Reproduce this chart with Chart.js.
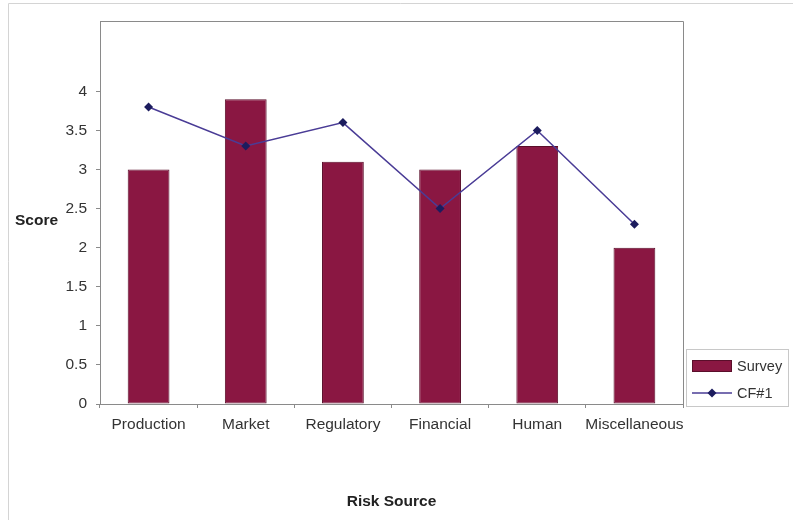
<!DOCTYPE html>
<html>
<head>
<meta charset="utf-8">
<script src="https://cdn.jsdelivr.net/npm/chart.js@4"></script>
<style>
  html, body { margin: 0; padding: 0; background: #fff; }
  #wrap { position: relative; width: 793px; height: 520px; }
  canvas { display: block; }
  #legend {
    position: absolute; left: 686px; top: 349px; width: 103px; height: 58px;
    background: #fff; border: 1px solid #c8c8c8; box-sizing: border-box;
    font-family: "Liberation Sans", Arial, sans-serif; font-size: 14.5px; color: #333;
  }
  .item { position: absolute; left: 5px; height: 16px; display: flex; align-items: center; }
  .item canvas { margin-right: 5px; }
</style>
</head>
<body>
<div id="wrap">
  <canvas id="c" width="793" height="520"></canvas>
  <div id="legend"></div>
</div>
<script>
// Risk sources and their scores
const categories = ['Production', 'Market', 'Regulatory', 'Financial', 'Human', 'Miscellaneous'];
const surveyScores = [3.0, 3.9, 3.1, 3.0, 3.3, 2.0];
const cf1Scores = [3.8, 3.3, 3.6, 2.5, 3.5, 2.3];
const yTickValues = [0, 0.5, 1, 1.5, 2, 2.5, 3, 3.5, 4];

const BAR_COLOR = '#8a1742';
const BAR_EDGE = '#5a0e2a';
const LINE_COLOR = '#4a3c96';
const MARKER_COLOR = '#1c1c5e';
const TEXT_COLOR = '#333333';
const FONT = '"Liberation Sans", Arial, sans-serif';
const FONT_SIZE = 15.5;

// Legend swatches: a filled bar block and a line with a diamond marker
function barSwatch() {
  const c = document.createElement('canvas');
  c.width = 40; c.height = 12;
  const g = c.getContext('2d');
  g.fillStyle = BAR_COLOR;
  g.fillRect(0, 0, 40, 12);
  g.strokeStyle = BAR_EDGE;
  g.lineWidth = 1;
  g.strokeRect(0.5, 0.5, 39, 11);
  return c;
}
function lineSwatch() {
  const c = document.createElement('canvas');
  c.width = 40; c.height = 12;
  const g = c.getContext('2d');
  g.strokeStyle = LINE_COLOR;
  g.lineWidth = 1.5;
  g.beginPath(); g.moveTo(0, 6); g.lineTo(40, 6); g.stroke();
  g.fillStyle = MARKER_COLOR;
  g.beginPath();
  g.moveTo(20, 1.5); g.lineTo(24.5, 6); g.lineTo(20, 10.5); g.lineTo(15.5, 6); g.closePath();
  g.fill();
  return c;
}
function buildLegend() {
  const host = document.getElementById('legend');
  [['Survey', barSwatch(), 8], ['CF#1', lineSwatch(), 35]].forEach(([text, sw, top]) => {
    const item = document.createElement('div');
    item.className = 'item';
    item.style.top = top + 'px';
    item.appendChild(sw);
    const span = document.createElement('span');
    span.textContent = text;
    item.appendChild(span);
    host.appendChild(item);
  });
}
buildLegend();

// Frame around the plot area, page border and the horizontal "Score" label
const decorations = {
  id: 'decorations',
  beforeDraw(chart) {
    const ctx = chart.ctx;
    ctx.save();
    ctx.strokeStyle = '#d4d4d4';
    ctx.lineWidth = 1;
    ctx.beginPath();
    ctx.moveTo(8.5, 520); ctx.lineTo(8.5, 3.5); ctx.lineTo(793, 3.5);
    ctx.stroke();
    ctx.restore();
  },
  afterDraw(chart) {
    const ctx = chart.ctx;
    const a = chart.chartArea;
    ctx.save();
    ctx.strokeStyle = '#8a8a8a';
    ctx.lineWidth = 1;
    ctx.beginPath();
    ctx.moveTo(Math.round(a.left) + 0.5, Math.round(a.top) + 0.5);
    ctx.lineTo(Math.round(a.right) + 0.5, Math.round(a.top) + 0.5);
    ctx.lineTo(Math.round(a.right) + 0.5, Math.round(a.bottom) + 0.5);
    ctx.stroke();

    ctx.fillStyle = '#222';
    ctx.font = 'bold ' + FONT_SIZE + 'px ' + FONT;
    ctx.textAlign = 'left';
    ctx.textBaseline = 'middle';
    ctx.fillText('Score', 15, 221);
    ctx.restore();
  }
};

new Chart(document.getElementById('c'), {
  type: 'bar',
  data: {
    labels: categories,
    datasets: [
      {
        type: 'line',
        label: 'CF#1',
        data: cf1Scores,
        borderColor: LINE_COLOR,
        borderWidth: 1.5,
        pointStyle: 'rectRot',
        pointRadius: 4.5,
        pointBackgroundColor: MARKER_COLOR,
        pointBorderColor: MARKER_COLOR,
        pointBorderWidth: 0,
        tension: 0,
        fill: false,
        order: 0
      },
      {
        type: 'bar',
        label: 'Survey',
        data: surveyScores,
        backgroundColor: BAR_COLOR,
        borderColor: BAR_EDGE,
        borderWidth: 1,
        borderSkipped: false,
        categoryPercentage: 1,
        barPercentage: 0.43,
        order: 1
      }
    ]
  },
  options: {
    responsive: false,
    animation: false,
    devicePixelRatio: 1,
    layout: { padding: { top: 21, right: 110, bottom: 0, left: 0 } },
    plugins: {
      tooltip: { enabled: false },
      legend: { display: false }
    },
    scales: {
      x: {
        offset: true,
        grid: {
          offset: true,
          drawOnChartArea: false,
          drawTicks: true,
          tickLength: 4,
          color: '#8a8a8a'
        },
        border: { display: true, color: '#8a8a8a', width: 1 },
        ticks: {
          color: TEXT_COLOR,
          font: { family: FONT, size: FONT_SIZE },
          padding: 7,
          maxRotation: 0,
          autoSkip: false
        },
        title: {
          display: true,
          text: 'Risk Source',
          color: '#222',
          font: { family: FONT, size: FONT_SIZE, weight: 'bold' },
          padding: { top: 4, bottom: 9 }
        },
        afterFit(scale) { scale.height = 116; }
      },
      y: {
        min: 0,
        max: 4.9,
        afterBuildTicks(scale) {
          scale.ticks = yTickValues.map(v => ({ value: v }));
        },
        grid: {
          drawOnChartArea: false,
          drawTicks: true,
          tickLength: 4,
          color: '#8a8a8a'
        },
        border: { display: true, color: '#8a8a8a', width: 1 },
        ticks: {
          color: TEXT_COLOR,
          font: { family: FONT, size: FONT_SIZE },
          padding: 9,
          callback: v => String(v)
        },
        afterFit(scale) { scale.width = 100; }
      }
    }
  },
  plugins: [decorations]
});
</script>
</body>
</html>
